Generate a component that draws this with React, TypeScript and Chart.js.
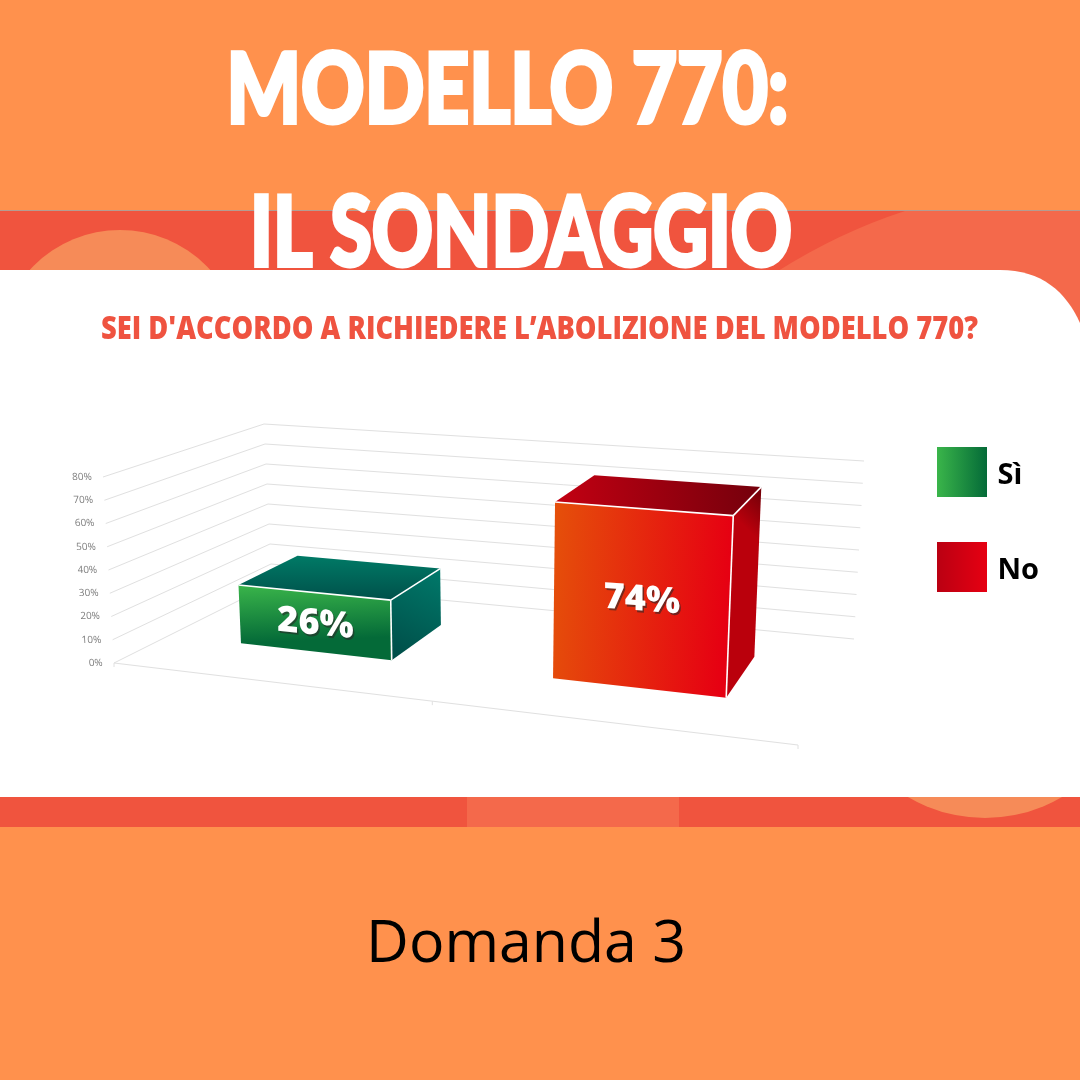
import React, { useEffect, useRef } from "react";
import { Chart, registerables } from "chart.js";

Chart.register(...registerables);

const categories = ["Sì", "No"];
const values = [26, 74];
const yMax = 80;
const yStep = 10;
const titleLines = ["MODELLO 770:", "IL SONDAGGIO"];
const question = "SEI D'ACCORDO A RICHIEDERE L’ABOLIZIONE DEL MODELLO 770?";
const footer = "Domanda 3";

type P = [number, number];
// Box of the 3D plot: floor corners and the vertical vector at each corner
const A: P = [114, 663], B: P = [798, 745], C: P = [854, 639], D: P = [272, 584];
const hA: P = [-11, -186], hB: P = [10.8, -212], hC: P = [10, -178], hD: P = [-8, -160];
const WARP = 1.149;
const D0 = 0.35;
const D1 = 0.75;

const bil = (a: P, b: P, c: P, d: P, u: number, t: number): P => [
  (1 - t) * ((1 - u) * a[0] + u * b[0]) + t * ((1 - u) * d[0] + u * c[0]),
  (1 - t) * ((1 - u) * a[1] + u * b[1]) + t * ((1 - u) * d[1] + u * c[1]),
];
const project = (u: number, d: number, v: number): P => {
  const w = u / (u + WARP * (1 - u));
  const f = bil(A, B, C, D, w, d);
  const h = bil(hA, hB, hC, hD, w, d);
  return [f[0] + v * h[0], f[1] + v * h[1]];
};

const faceStyles = [
  {
    front: ["#3AB54A", "#046A38"], frontDir: "v",
    top: ["#007A66", "#00504A"], topDir: "v",
    side: ["#00796A", "#004C47"], sideDir: "v",
  },
  {
    front: ["#E5500A", "#E60012"], frontDir: "h",
    top: ["#C30012", "#74000C"], topDir: "h",
    side: ["#BA000C", "#6E0008"], sideDir: "h",
  },
];

const poly = (ctx: CanvasRenderingContext2D, pts: P[], fill: any) => {
  ctx.beginPath();
  pts.forEach((p, i) => (i ? ctx.lineTo(p[0], p[1]) : ctx.moveTo(p[0], p[1])));
  ctx.closePath();
  ctx.fillStyle = fill;
  ctx.fill();
};
const grad = (ctx: CanvasRenderingContext2D, a: P, b: P, cols: string[]) => {
  const g = ctx.createLinearGradient(a[0], a[1], b[0], b[1]);
  g.addColorStop(0, cols[0]);
  g.addColorStop(1, cols[1]);
  return g;
};
const seg = (ctx: CanvasRenderingContext2D, a: P, b: P) => {
  ctx.beginPath();
  ctx.moveTo(a[0], a[1]);
  ctx.lineTo(b[0], b[1]);
  ctx.stroke();
};

const posterPlugin = {
  id: "poster",
  afterLayout(chart: any) {
    const leg = chart.legend;
    const pad = leg.options.labels.padding;
    leg.left = 937 - pad;
    leg.top = 447 - pad;
    leg.right = 1080;
    leg.bottom = 1000;
    if (!leg.__moved) {
      leg.__moved = true;
      const drawLegend = leg.draw.bind(leg);
      leg.draw = () => {
        const c = chart.ctx;
        const ft = c.fillText;
        c.fillText = function (t: string, x: number, y: number) {
          return ft.call(c, t, x - 4, y + 4);
        };
        drawLegend();
        delete c.fillText;
      };
    }
    const s = chart.scales.y;
    if (!s.__skewed) {
      s.__skewed = true;
      const orig = s.drawLabels.bind(s);
      s.drawLabels = (area: any) => {
        const c = chart.ctx;
        const k = 0.059;
        c.save();
        c.transform(1, 0, k, 1, -k * chart.chartArea.bottom, 0);
        orig(area);
        c.restore();
      };
    }
  },
  beforeDraw(chart: any) {
    const c: CanvasRenderingContext2D = chart.ctx;
    c.save();
    c.fillStyle = "#FF914D";
    c.fillRect(0, 0, 1080, 1080);
    c.fillStyle = "#F0543E";
    c.fillRect(0, 211, 1080, 60);
    c.fillStyle = "#B49C92";
    c.fillRect(0, 210, 1080, 1);
    // top band decoration
    c.save();
    c.beginPath();
    c.rect(0, 211, 1080, 60);
    c.clip();
    c.fillStyle = "#F68B58";
    c.beginPath();
    c.arc(120, 352, 122, 0, Math.PI * 2);
    c.fill();
    c.fillStyle = "#F4694B";
    c.beginPath();
    c.moveTo(778, 271);
    c.quadraticCurveTo(840, 232, 905, 211);
    c.lineTo(1080, 211);
    c.lineTo(1080, 271);
    c.closePath();
    c.fill();
    c.restore();
    // right edge behind the panel corner
    c.fillStyle = "#F4694B";
    c.fillRect(980, 270, 100, 60);
    // white panel
    c.fillStyle = "#FFFFFF";
    c.beginPath();
    c.moveTo(0, 270);
    c.lineTo(1000, 270);
    c.bezierCurveTo(1042, 270, 1066, 292, 1080, 323);
    c.lineTo(1080, 797);
    c.lineTo(0, 797);
    c.closePath();
    c.fill();
    // bottom band
    c.fillStyle = "#F0543E";
    c.fillRect(0, 797, 1080, 30);
    c.fillStyle = "#F4694B";
    c.fillRect(467, 797, 212, 30);
    c.save();
    c.beginPath();
    c.rect(0, 797, 1080, 30);
    c.clip();
    c.fillStyle = "#F68B58";
    c.beginPath();
    c.arc(985, 666, 152, 0, Math.PI * 2);
    c.fill();
    c.restore();

    // texts
    c.textAlign = "left";
    c.textBaseline = "alphabetic";
    c.fillStyle = "#FFFFFF";
    c.strokeStyle = "#FFFFFF";
    c.lineWidth = 4;
    c.lineJoin = "miter";
    c.miterLimit = 2;
    c.font = "900 98px Lato";
    c.strokeText(titleLines[0], 226.5, 123, 562);
    c.fillText(titleLines[0], 226.5, 123, 562);
    c.strokeText(titleLines[1], 250, 266, 542);
    c.fillText(titleLines[1], 250, 266, 542);
    c.fillStyle = "#EF5340";
    c.font = "800 31px 'Open Sans'";
    c.fillText(question, 101, 339, 877);
    c.fillStyle = "#000000";
    c.textAlign = "center";
    c.font = "400 59px 'Open Sans'";
    c.fillText(footer, 526, 962);
    c.restore();
  },
  beforeDatasetsDraw(chart: any) {
    const c: CanvasRenderingContext2D = chart.ctx;
    const area = chart.chartArea;
    const y = chart.scales.y;
    const frac = (px: number) => (area.bottom - px) / (area.bottom - area.top);

    c.save();
    c.strokeStyle = "#E0E0E0";
    c.lineWidth = 1;
    y.ticks.forEach((t: any) => {
      const v = frac(y.getPixelForValue(t.value));
      seg(c, project(0, 0, v), project(0, 1, v));
      seg(c, project(0, 1, v), project(1, 1, v));
    });
    seg(c, project(0, 0, 0), project(1, 0, 0));
    [0, 0.5, 1].forEach((u) => {
      const p = project(u, 0, 0);
      seg(c, p, [p[0], p[1] + 4]);
    });

    const meta = chart.getDatasetMeta(0);
    meta.data.forEach((el: any, i: number) => {
      const st = faceStyles[i];
      const u0 = (el.x - el.width / 2 - area.left) / area.width;
      const u1 = (el.x + el.width / 2 - area.left) / area.width;
      const v = frac(el.y);
      const ftl = project(u0, D0, v), ftr = project(u1, D0, v);
      const fbl = project(u0, D0, 0), fbr = project(u1, D0, 0);
      const btl = project(u0, D1, v), btr = project(u1, D1, v), bbr = project(u1, D1, 0);

      poly(c, [ftl, btl, btr, ftr],
        st.topDir === "v" ? grad(c, [ftr[0], btl[1]], [ftr[0], ftr[1]], st.top) : grad(c, ftl, btr, st.top));
      poly(c, [ftr, btr, bbr, fbr],
        st.sideDir === "v" ? grad(c, btr, fbr, st.side) : grad(c, ftr, btr, st.side));
      poly(c, [ftl, ftr, fbr, fbl],
        st.frontDir === "v" ? grad(c, ftl, fbl, st.front) : grad(c, ftl, ftr, st.front));

      c.strokeStyle = "#FFFFFF";
      c.lineWidth = 1.6;
      seg(c, ftl, ftr);
      seg(c, ftr, fbr);
      seg(c, ftr, btr);

      const cx = (ftl[0] + ftr[0] + fbl[0] + fbr[0]) / 4;
      const cy = (ftl[1] + ftr[1] + fbl[1] + fbr[1]) / 4;
      const slope = (ftr[1] - ftl[1]) / (ftr[0] - ftl[0]);
      const label = `${chart.data.datasets[0].data[i]}%`;
      c.save();
      c.translate(cx, cy + 2);
      c.transform(1, slope, 0, 1, 0, 0);
      c.textAlign = "center";
      c.textBaseline = "middle";
      c.font = "800 36px 'Open Sans'";
      c.fillStyle = "rgba(40,40,40,0.6)";
      c.fillText(label, 1.5, 2);
      c.fillStyle = "#FFFFFF";
      c.fillText(label, 0, 0);
      c.restore();
    });
    c.restore();
    return false;
  },
};

export default function App() {
  const ref = useRef<HTMLCanvasElement>(null);
  useEffect(() => {
    const chart = new Chart(ref.current as HTMLCanvasElement, {
      type: "bar",
      data: {
        labels: categories,
        datasets: [{
          data: values,
          backgroundColor: ["#0B8A43", "#E60012"],
          barPercentage: 0.5,
          categoryPercentage: 1,
        }],
      },
      plugins: [posterPlugin as any],
      options: {
        animation: false,
        responsive: false,
        devicePixelRatio: 1,
        layout: { padding: { left: 83, right: 10, top: 477, bottom: 417 } },
        scales: {
          x: { display: false },
          y: {
            min: 0,
            max: yMax,
            grid: { display: false },
            border: { display: false },
            ticks: {
              stepSize: yStep,
              padding: 0,
              color: "#7F7F7F",
              font: { family: "'Open Sans'", size: 10 },
              callback: (v: any) => `${v}%`,
            },
          },
        },
        plugins: {
          tooltip: { enabled: false },
          title: { display: false },
          legend: {
            position: "right",
            align: "start",
            onClick: () => {},
            labels: {
              boxWidth: 50,
              boxHeight: 50,
              padding: 45,
              color: "#000000",
              font: { family: "'Open Sans'", size: 29, weight: "bold" },
              generateLabels: (ch: any) => {
                const c = ch.ctx;
                const g1 = c.createLinearGradient(937, 0, 987, 0);
                g1.addColorStop(0, "#3AB54A");
                g1.addColorStop(1, "#046A38");
                const g2 = c.createLinearGradient(937, 0, 987, 0);
                g2.addColorStop(0, "#BA0012");
                g2.addColorStop(1, "#E60012");
                return categories.map((text, i) => ({
                  text,
                  fillStyle: i === 0 ? g1 : g2,
                  strokeStyle: "transparent",
                  lineWidth: 0,
                  hidden: false,
                  index: i,
                }));
              },
            },
          },
        },
      } as any,
    });
    return () => chart.destroy();
  }, []);
  return (
    <canvas
      ref={ref}
      width={1080}
      height={1080}
      style={{ position: "fixed", left: 0, top: 0, width: 1080, height: 1080, display: "block" }}
    />
  );
}
